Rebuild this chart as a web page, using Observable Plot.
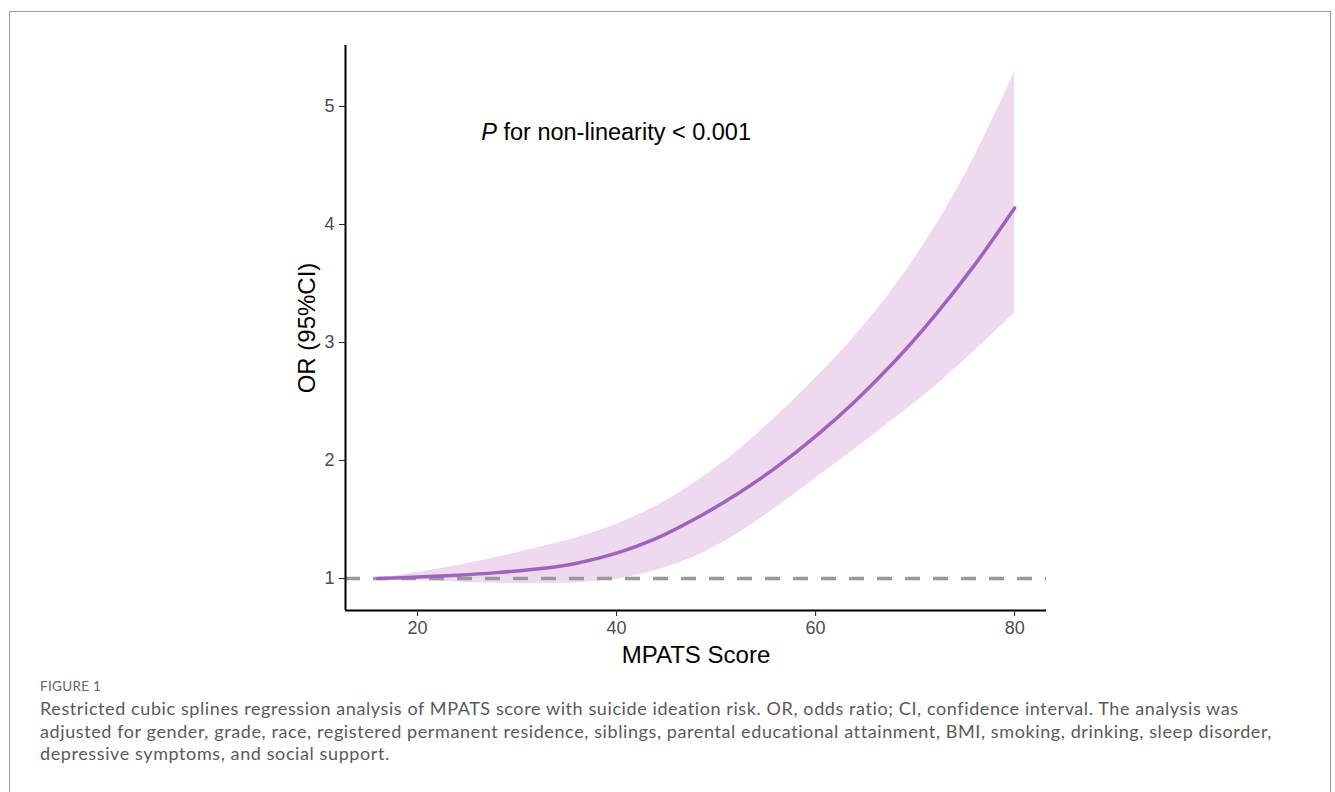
<!DOCTYPE html>
<html>
<head>
<meta charset="utf-8">
<script src="https://cdn.jsdelivr.net/npm/d3@7"></script>
<script src="https://cdn.jsdelivr.net/npm/@observablehq/plot@0.6"></script>
<style>
  html, body { margin: 0; padding: 0; background: #fff; width: 1335px; height: 792px; overflow: hidden; }
  #frame { position: absolute; left: 9px; top: 11px; width: 1322px; height: 820px; border: 1.5px solid #9a9a9a; box-sizing: border-box; }
  #chart { position: absolute; left: 0; top: 0; }
  #caption { position: absolute; left: 40px; top: 678px; font-family: Lato, "Open Sans", sans-serif; color: #5a5a5a; }
  #caption .fig { font-size: 13.5px; letter-spacing: 0.3px; color: #666; margin-bottom: 3px; }
  #caption .txt { font-size: 18px; line-height: 22.5px; letter-spacing: 0.6px; white-space: nowrap; }
</style>
</head>
<body>
<div id="frame"></div>
<div id="chart"></div>
<div id="caption">
  <div class="fig">FIGURE 1</div>
  <div class="txt">Restricted cubic splines regression analysis of MPATS score with suicide ideation risk. OR, odds ratio; CI, confidence interval. The analysis was<br>adjusted for gender, grade, race, registered permanent residence, siblings, parental educational attainment, BMI, smoking, drinking, sleep disorder,<br>depressive symptoms, and social support.</div>
</div>
<script>
// MPATS score grid
const score = [16, 20, 24, 28, 32, 36, 40, 44, 48, 52, 56, 60, 64, 68, 72, 76, 80];
// odds ratio (spline fit)
const orFit = [1.00, 1.012, 1.028, 1.05, 1.08, 1.13, 1.215, 1.34, 1.51, 1.71, 1.94, 2.205, 2.505, 2.845, 3.23, 3.66, 4.14];
// 95% CI lower / upper
const orLow = [1.00, 0.985, 0.97, 0.96, 0.955, 0.965, 0.995, 1.07, 1.19, 1.37, 1.60, 1.85, 2.10, 2.36, 2.63, 2.93, 3.25];
const orHigh = [1.00, 1.05, 1.11, 1.18, 1.26, 1.345, 1.46, 1.615, 1.82, 2.07, 2.37, 2.70, 3.06, 3.48, 3.98, 4.58, 5.29];
const xTicks = [20, 40, 60, 80];
const yTicks = [1, 2, 3, 4, 5];
const refOR = 1;
const xDomain = [12.76, 83.2];
const yDomain = [0.729, 5.517];
const annotation = {x: 26.4, y: 4.78, text: "P for non-linearity < 0.001"};

const rows = score.map((s, i) => ({score: s, or: orFit[i], lo: orLow[i], hi: orHigh[i]}));

const chart = Plot.plot({
  width: 1335,
  height: 690,
  marginLeft: 345,
  marginRight: 289,
  marginTop: 45,
  marginBottom: 80,
  style: {fontFamily: "'Liberation Sans', Arial, sans-serif", background: "transparent"},
  x: {domain: xDomain},
  y: {domain: yDomain},
  marks: [
    Plot.areaY(rows, {x: "score", y1: "lo", y2: "hi", fill: "#efd9ef", curve: "catmull-rom"}),
    Plot.ruleY([refOR], {stroke: "#999999", strokeWidth: 3.5, strokeDasharray: "15,13"}),
    Plot.line(rows, {x: "score", y: "or", stroke: "#9e64bd", strokeWidth: 3.5, curve: "catmull-rom"}),
    Plot.ruleX([xDomain[0]], {stroke: "#000", strokeWidth: 2}),
    Plot.ruleY([yDomain[0]], {stroke: "#000", strokeWidth: 2}),
    Plot.axisY({ticks: yTicks, tickSize: 6, tickPadding: 5, fontSize: 18, label: null, tickFormat: d => d, color: "#4d4d4d", stroke: "#222"}),
    Plot.axisX({ticks: xTicks, tickSize: 6, tickPadding: 5, fontSize: 18, label: null, tickFormat: d => d, color: "#4d4d4d", stroke: "#222"}),
    Plot.text(["OR (95%CI)"], {frameAnchor: "left", textAnchor: "middle", lineAnchor: "middle", dx: -38, rotate: -90, fontSize: 24, fill: "#000"}),
    Plot.text(["MPATS Score"], {frameAnchor: "bottom", textAnchor: "middle", lineAnchor: "middle", dy: 45, fontSize: 24, fill: "#000"}),
    Plot.text([annotation], {x: "x", y: "y", text: "text", textAnchor: "start", fontSize: 23.5, fill: "#000"})
  ]
});
document.getElementById("chart").appendChild(chart);
// italicise the leading "P" of the annotation
d3.select(chart).selectAll("text").each(function () {
  const t = d3.select(this);
  if (t.text() === annotation.text) {
    t.text(null);
    t.append("tspan").attr("font-style", "italic").text("P");
    t.append("tspan").text(annotation.text.slice(1));
  }
});
</script>
</body>
</html>
